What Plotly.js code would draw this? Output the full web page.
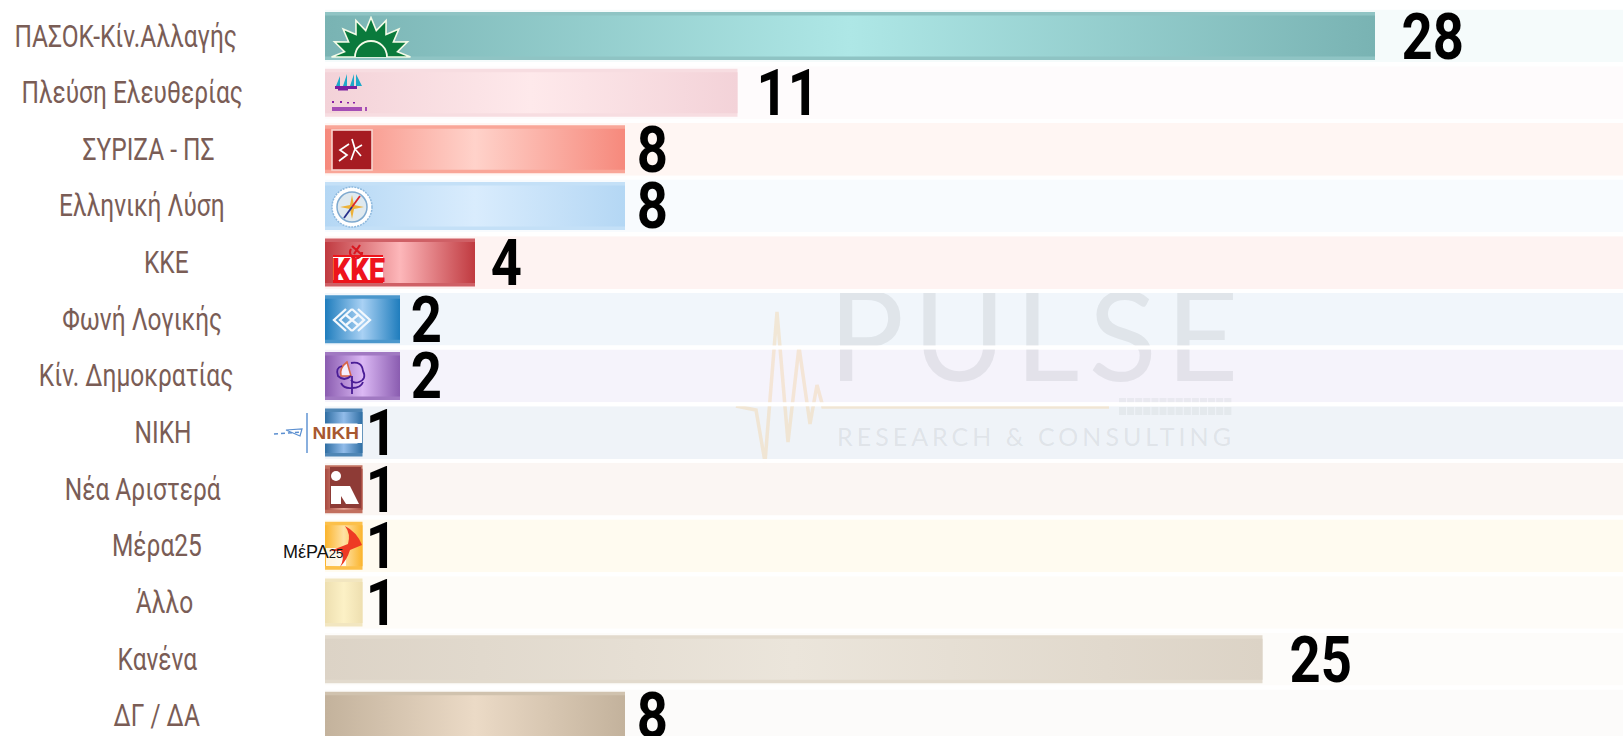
<!DOCTYPE html>
<html><head><meta charset="utf-8">
<script src="https://cdn.plot.ly/plotly-3.0.1.min.js"></script>
<style>html,body{margin:0;padding:0;background:#fff;overflow:hidden}#c{width:1623px;height:736px}</style>
</head><body><div id="c"></div>
<script>
const categories=["ΠΑΣΟΚ-Κίν.Αλλαγής","Πλεύση Ελευθερίας","ΣΥΡΙΖΑ - ΠΣ","Ελληνική Λύση","ΚΚΕ","Φωνή Λογικής","Κίν. Δημοκρατίας","ΝΙΚΗ","Νέα Αριστερά","Μέρα25","Άλλο","Κανένα","ΔΓ / ΔΑ"];
const values=[28,11,8,8,4,2,2,1,1,1,1,25,8];
const edgeColors=["#79b3b3","#f3d2d8","#f6897c","#b4d7f4","#c03a40","#1f7dbd","#8a5cb0","#2f6ea3","#a8493f","#fbb42c","#eedfb0","#dcd3c6","#c3b29c"];
const midColors=["#aee7e6","#fee9eb","#ffd2ca","#d9ecfd","#fdb7ba","#a9d1f4","#dbb8f4","#92bcea","#e8a99a","#ffe2a4","#fcf1c6","#ebe5db","#ebdac6"];
const stripColors=["#8fc4c4","#f7dde1","#f9a698","#c4e0f7","#cf6066","#4b97cc","#a179c2","#4f86b5","#c2705f","#fcc04a","#f2e6c0","#e2dacd","#d0c2ae"];
const bandColors=["#f5fbfb","#fefbfc","#fff6f3","#f8fbfe","#fef3f2","#f1f6fb","#f5f3fb","#eff3f8","#fbf6f3","#fffbf0","#fefcf8","#fdfcfa","#fcfbfa"];
const labelCenters=[126,132,148,142,166,142,136,163,143,157,164,157,156];
const valueShift=[57,50,27,27,31,26,26,19,19,19,19,58,27];

const W=1623,H=736,X0=325,PXU=37.5,Y0=36,PITCH=56.65;
const xMax=(W-X0)/PXU;
const yTop=(0-Y0)/PITCH, yBot=(H-Y0)/PITCH;
const idx=categories.map((_,i)=>i);
const dx=p=>(p-X0)/PXU, dy=p=>(p-Y0)/PITCH;
const LABEL='Roboto,sans-serif';

const traces=[{type:'bar',orientation:'h',y:idx,x:values,width:48/PITCH,marker:{color:stripColors,line:{width:0}},hoverinfo:'skip',showlegend:false}];
const inner=41/PITCH/2;
values.forEach((v,i)=>{traces.push({type:'scatter',mode:'lines',x:[0,v,v,0,0],y:[i-inner,i-inner,i+inner,i+inner,i-inner],line:{width:0,color:'rgba(0,0,0,0)'},fill:'toself',
 fillgradient:{type:'horizontal',colorscale:[[0,edgeColors[i]],[0.5,midColors[i]],[1,edgeColors[i]]]},hoverinfo:'skip',showlegend:false});});
traces.push({type:'scatter',mode:'text',x:[dx(1038)],y:[dy(349)],text:['PULSE'],textposition:'middle center',textfont:{family:'Lato,"Open Sans",sans-serif',size:126,color:'rgba(120,130,135,0.14)'},hoverinfo:'skip',showlegend:false,cliponaxis:false});
traces.push({type:'scatter',mode:'text',x:[dx(1036)],y:[dy(440)],text:['RESEARCH & CONSULTING'],textposition:'middle center',textfont:{family:'Lato,"Open Sans",sans-serif',size:25,color:'rgba(120,130,135,0.14)'},hoverinfo:'skip',showlegend:false,cliponaxis:false});

const shapes=[];
categories.forEach((_,i)=>{
 shapes.push({type:'rect',layer:'below',xref:'x',yref:'y',x0:0,x1:xMax,y0:i-0.465,y1:i+0.465,fillcolor:bandColors[i],line:{width:0}});
 if(i<categories.length-1)shapes.push({type:'rect',layer:'above',xref:'x',yref:'y',x0:0,x1:xMax,y0:i+0.465,y1:i+0.535,fillcolor:'#ffffff',line:{width:0}});
});

const annotations=[];
categories.forEach((c,i)=>annotations.push({xref:'paper',yref:'y',x:labelCenters[i]/W,y:i,text:c,showarrow:false,xanchor:'center',yanchor:'middle',font:{family:LABEL,size:31,color:'#7a5d56'}}));
values.forEach((v,i)=>annotations.push({xref:'x',yref:'y',x:v,y:i,xshift:valueShift[i],yshift:-1,text:String(v),showarrow:false,xanchor:'center',yanchor:'middle',font:{family:LABEL,size:64,weight:700,color:'#000'}}));
const pxNote=(x,y,t,size,color,fam,bg,wt)=>annotations.push({xref:'paper',yref:'paper',x:x/W,y:1-y/H,text:t,showarrow:false,xanchor:'center',yanchor:'middle',font:{family:fam||LABEL,size:size,color:color,weight:wt||400},bgcolor:bg||'rgba(0,0,0,0)',borderpad:0});
pxNote(358,270,'ΚΚΕ',33,'#ee141c',LABEL,null,900);
pxNote(336,433,'ΝΙΚΗ',17,'#a8582f','"Liberation Sans",sans-serif','#ffffff',700);
pxNote(313,552,'ΜέΡΑ<span style="font-size:13px">25</span>',18,'#111111','"Liberation Sans",sans-serif');

function svgUri(w,h,body){return 'data:image/svg+xml;charset=utf-8,'+encodeURIComponent('<svg xmlns="http://www.w3.org/2000/svg" width="'+w+'" height="'+h+'" viewBox="0 0 '+w+' '+h+'">'+body+'</svg>');}
const images=[];
function logo(px,py,w,h,body,layer){images.push({source:svgUri(w,h,body),xref:'paper',yref:'paper',x:px/W,y:1-py/H,sizex:w/W,sizey:h/H,xanchor:'left',yanchor:'top',sizing:'stretch',layer:layer||'above'});}

// sun
(function(){let pts=[];const cx=40,cy=41,n=8;for(let k=0;k<=2*n;k++){const a=Math.PI*k/(2*n),r=k%2===0?39.5:27;pts.push((cx+r*Math.cos(a)).toFixed(1)+','+(cy-r*Math.sin(a)).toFixed(1));}
logo(331,16,82,43,'<polygon points="'+pts.join(' ')+'" fill="#0a7a3c" stroke="#f4fbe8" stroke-width="1.6"/><path d="M24 41 A16 16 0 0 1 56 41" fill="#0a7a3c" stroke="#f4fbe8" stroke-width="1.8"/>');})();
// ships
logo(332,72,46,42,'<g fill="#1ea9c9"><path d="M4 14 L8 4 L8 14Z M11 14 L15 2 L15 14Z M18 14 L22 2 L22 14Z M24 14 L24 2 L30 14Z"/></g><rect x="3" y="14" width="22" height="3" fill="#7a1fa0"/><rect x="6" y="17" width="10" height="1.5" fill="#7a1fa0"/><g fill="#8a20a8"><rect x="0" y="29" width="2" height="2"/><rect x="8" y="29" width="2" height="2"/><rect x="15" y="30" width="2" height="1.5"/><rect x="21" y="30" width="2" height="1.5"/><rect x="0" y="35" width="30" height="4" opacity="0.75"/><rect x="33" y="35" width="2" height="4" opacity="0.75"/></g>');
// square
logo(331,129,42,42,'<rect x="1" y="1" width="40" height="40" fill="#a61c22" stroke="#f8d5cf" stroke-width="1.6"/><path d="M18 15 L9 21 L16 26 L8 32 M21 10 L24 20 L20 31 M24 20 L31 16 M24 20 L30 27" fill="none" stroke="#fff" stroke-width="1.7"/>');
// compass
logo(330,185,44,44,'<circle cx="22" cy="22" r="20" fill="#fff" stroke="#8db8dd" stroke-width="1.5" stroke-dasharray="2 1"/><circle cx="22" cy="22" r="15" fill="#dfe9ef" stroke="#7ea9cf" stroke-width="1.5"/><path d="M22 10 L24 20 L34 22 L24 24 L22 34 L20 24 L10 22 L20 20Z" fill="#eeb238"/><path d="M30 11 L22 22" stroke="#d8262c" stroke-width="1.8"/><path d="M22 22 L14 33" stroke="#27308a" stroke-width="1.8"/>');
// kke
logo(332,243,52,41,'<rect x="1" y="14" width="50" height="26" fill="#fff"/><rect x="1" y="37" width="50" height="3" fill="#ee141c"/><path d="M19 6 A6 6 0 1 0 30 9 M20 3 L30 12 M28 2 L22 11" fill="none" stroke="#d81820" stroke-width="2.2"/><rect x="1" y="12" width="50" height="2" fill="#ee141c"/>');
// diamonds
logo(331,306,42,28,'<g fill="none" stroke="#f3f8fd" stroke-width="2.3"><path d="M15 3 L3 14 L15 25 M21 3 L9 14 L21 25"/><path d="M21 3 L33 14 L21 25 M27 3 L39 14 L27 25"/><path d="M15 9 L21 14 L15 19 M27 9 L21 14 L27 19"/></g>');
// flower
logo(335,358,36,38,'<path d="M12 4 Q4 10 6 18 L16 18 Z" fill="#f5eefc" stroke="#d8664a" stroke-width="1.6"/><g fill="none" stroke="#4a1d96" stroke-width="1.8"><path d="M16 18 Q9 24 3 18 Q0 10 7 8"/><path d="M16 5 Q27 3 28 13 Q32 21 24 24 Q19 26 16 22"/><path d="M17 18 L17 36 M6 25 Q9 31 17 30 M28 24 Q26 30 17 30"/></g>');
// niki
logo(272,410,92,46,'<rect x="53" y="14" width="37" height="19" fill="#fff"/><path d="M2 24 L30 22" stroke="#5b8fd0" stroke-width="1.5" stroke-dasharray="4 3"/><path d="M14 20 L30 19 L28 26 Z" fill="none" stroke="#5b8fd0" stroke-width="1.2"/><path d="M35 3 L35 43" stroke="#6b9bd6" stroke-width="1.6"/>');
// nea aristera
logo(330,466,32,43,'<rect x="0" y="1" width="31" height="41" fill="#8e3b36"/><circle cx="6" cy="10" r="5" fill="#fff"/><path d="M1 20 L20 20 L29 38 L16 38 L11 30 L11 38 L1 38Z" fill="#fff"/>');
// mera25
logo(326,524,37,47,'<rect x="0" y="24" width="20" height="18" fill="#fff" opacity="0.85"/><path d="M19 2 Q31 8 36 21 L24 26 Q21 36 14 43 Q19 34 15 27 L4 27 L22 20 Q25 10 19 2Z" fill="#ee3a24"/>');
// pulse line
logo(730,300,380,170,'<polyline points="6,106 26,110 35,162 47,12 58,142 69,47 80,124 87,85 93,107 379,107" fill="none" stroke="#f4c688" stroke-opacity="0.32" stroke-width="3.5"/>');
// faint strip under the wordmark (illegible in the source)
(function(){let b='';for(let r=0;r<2;r++)for(let k=0;k<14;k++)b+='<rect x="'+(k*8.1)+'" y="'+(r*9+1)+'" width="7" height="8" fill="#7a8287" opacity="0.09"/>';logo(1119,397,114,20,b);})();

const layout={width:W,height:H,margin:{l:0,r:0,t:0,b:0},paper_bgcolor:'#fff',plot_bgcolor:'rgba(0,0,0,0)',showlegend:false,hovermode:false,barmode:'overlay',
 xaxis:{domain:[X0/W,1],range:[0,xMax],visible:false,fixedrange:true},
 yaxis:{domain:[0,1],range:[yBot,yTop],visible:false,fixedrange:true},
 shapes,annotations,images};
Plotly.newPlot('c',traces,layout,{displayModeBar:false,staticPlot:true}).then(gd=>{
 gd.querySelectorAll('.scatterlayer .textpoint text').forEach(n=>{n.style.letterSpacing=n.textContent==='PULSE'?'9px':'4px';});
 const squeeze=(n,f)=>{n.setAttribute('textLength',(n.getComputedTextLength()*f).toFixed(1));n.setAttribute('lengthAdjust','spacingAndGlyphs');};
 gd.querySelectorAll('.annotation-text').forEach((n,i)=>{
  if(i<categories.length)squeeze(n,0.79);
  else if(i<categories.length*2)squeeze(n,0.85);
  else if(n.textContent==='ΚΚΕ')squeeze(n,0.88);
  else if(n.textContent==='ΝΙΚΗ')squeeze(n,1.12);
 });
});
</script></body></html>
